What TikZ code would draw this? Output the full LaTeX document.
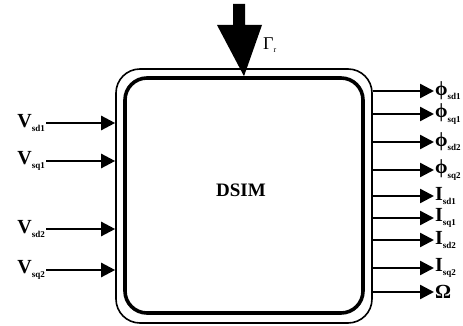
\documentclass[tikz,border=0pt]{standalone}
\usepackage{fontspec}
\setmainfont{Liberation Serif}
\usetikzlibrary{arrows.meta}
\newcommand{\sbs}[1]{\raisebox{-0.45ex}{\fontsize{9}{9}\selectfont\bfseries #1}}
\begin{document}
\begin{tikzpicture}[x=1pt,y=-1pt,
  sig/.style={line width=2.4pt,-{Triangle[length=14pt,width=14pt]}},
  lab/.style={font=\fontsize{20}{20}\selectfont\bfseries,inner sep=1pt},
  blockbox/.style={draw,rounded corners=24pt,minimum width=#1,inner sep=0pt}]
\useasboundingbox (0,0) rectangle (463,326);
% machine block: thin outer frame and heavy inner frame
\node[blockbox=256pt,minimum height=254pt,line width=1.6pt] (outer) at (244,196) {};
\node[blockbox=238pt,minimum height=235pt,line width=3.6pt,rounded corners=22pt] (inner) at (244,195.5) {};
\node[font=\fontsize{19}{19}\selectfont\bfseries] (name) at (241,190) {DSIM};
% load torque input
\coordinate (tq) at (outer.north);
\fill (233,4) -- (245,4) -- (245,25) -- (262,25) -- (tq |- inner.north) -- (217,25) -- (233,25) -- cycle;
\node[font=\fontsize{18}{18}\selectfont,anchor=west,inner sep=0pt] (gr) at (263,45) {Γ\raisebox{-0.3ex}{\fontsize{8}{8}\selectfont r}};
% stator voltage inputs
\foreach \n/\y/\s in {a/123/sd1,b/161/sq1,c/229/sd2,d/270/sq2}{
  \node[lab,anchor=east] (v\n) at (46,\y) {V\sbs{\s}};
  \draw[sig] (v\n.east) -- (v\n.east -| outer.west);
}
% outputs: fluxes, currents, speed
\foreach \n/\y/\t in {
  a/91/{ϕ\sbs{sd1}}, b/114/{ϕ\sbs{sq1}}, c/142/{ϕ\sbs{sd2}}, d/170/{ϕ\sbs{sq2}},
  e/196/{I\sbs{sd1}}, f/218/{I\sbs{sq1}}, g/240/{I\sbs{sd2}}, h/268/{I\sbs{sq2}},
  i/292/{Ω}}{
  \node[lab,anchor=west] (o\n) at (434,\y) {\t};
  \coordinate (s\n) at (outer.east |- o\n.west);
  \draw[sig] (s\n) -- (o\n.west);
}
\end{tikzpicture}
\end{document}
